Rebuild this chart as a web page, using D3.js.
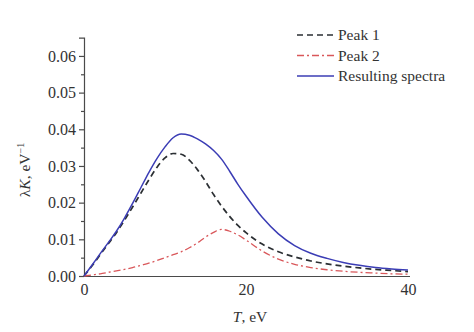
<!DOCTYPE html>
<html>
<head>
<meta charset="utf-8">
<script src="https://cdn.jsdelivr.net/npm/d3@7"></script>
<style>
  body { margin: 0; background: #fff; }
  text { font-family: "Liberation Serif", "Times New Roman", serif; fill: #333; }
</style>
</head>
<body>
<svg id="chart" width="474" height="332"></svg>
<script>
// energy grid, eV
var T = [0,1,2,3,4,5,6,7,8,9,10,11,12,13,14,15,16,17,18,19,20,22,24,26,28,30,32,34,36,38,40];
var peak1 = [0,0.0028,0.0058,0.0088,0.0118,0.0152,0.0188,0.0225,0.0262,0.0296,0.0322,0.0334,0.0332,0.0316,0.0290,0.0258,0.0222,0.0190,0.0162,0.0138,0.0118,0.0087,0.0066,0.0052,0.0041,0.0033,0.0027,0.0022,0.0018,0.0015,0.0012];
var peak2 = [0,0.0003,0.0006,0.0010,0.0014,0.0018,0.0023,0.0029,0.0035,0.0042,0.0050,0.0058,0.0066,0.0077,0.0090,0.0106,0.0119,0.0127,0.0122,0.0112,0.0098,0.0068,0.0046,0.0032,0.0023,0.0017,0.0013,0.0010,0.0008,0.0006,0.0005];
var resulting = [0,0.0030,0.0061,0.0091,0.0122,0.0158,0.0198,0.0240,0.0282,0.0320,0.0352,0.0377,0.0387,0.0384,0.0374,0.0360,0.0342,0.0318,0.0285,0.0250,0.0218,0.0160,0.0115,0.0083,0.0062,0.0048,0.0037,0.0029,0.0023,0.0019,0.0016];
var xTicks = [0, 20, 40];
var yTicks = [0, 0.01, 0.02, 0.03, 0.04, 0.05, 0.06];
var seriesNames = ["Peak 1", "Peak 2", "Resulting spectra"];

var svg = d3.select("#chart");
var x = d3.scaleLinear().domain([0, 40]).range([84, 408]);
var y = d3.scaleLinear().domain([0, 0.065]).range([276, 37.6]);

// axes
var yAxis = svg.append("g").attr("transform", "translate(84,0)")
    .call(d3.axisLeft(y).tickValues(yTicks).tickFormat(d3.format(".2f")).tickSize(5).tickPadding(3));
svg.append("g").attr("transform", "translate(84,0)")
    .call(d3.axisLeft(y).tickValues(d3.range(0.005, 0.065, 0.01)).tickFormat("").tickSize(3))
    .select(".domain").remove();
var xAxis = svg.append("g").attr("transform", "translate(0,276)")
    .call(d3.axisBottom(x).tickValues(xTicks).tickSize(0).tickPadding(8));

svg.selectAll(".domain, .tick line").attr("stroke", "#4a4a4a").attr("stroke-width", 1.2);
svg.selectAll(".tick text").attr("font-size", 16).attr("fill", "#333")
    .style("font-family", "'Liberation Serif', serif");
xAxis.select(".domain").attr("d", "M84,0.5H410");

// lines
var line = d3.line().x(function(d, i){ return x(T[i]); }).y(function(d){ return y(d); }).curve(d3.curveMonotoneX);
var styles = [
  {data: peak1, color: "#2b2f33", dash: "6,4", w: 1.7},
  {data: peak2, color: "#d9575a", dash: "7,3,2,3", w: 1.3},
  {data: resulting, color: "#3b3db5", dash: null, w: 1.5}
];
styles.forEach(function(s){
  svg.append("path").attr("d", line(s.data)).attr("fill", "none")
    .attr("stroke", s.color).attr("stroke-width", s.w)
    .attr("stroke-dasharray", s.dash);
});

// legend
var leg = svg.append("g");
seriesNames.forEach(function(n, i){
  var yy = 35 + i * 20.5;
  leg.append("line").attr("x1", 297).attr("x2", 334).attr("y1", yy).attr("y2", yy)
    .attr("stroke", styles[i].color).attr("stroke-width", styles[i].w)
    .attr("stroke-dasharray", styles[i].dash);
  leg.append("text").attr("x", 338).attr("y", yy + 5).attr("font-size", 15.5).text(n);
});

// axis titles
svg.append("text").attr("x", 250).attr("y", 322).attr("text-anchor", "middle").attr("font-size", 15.5)
  .html('<tspan font-style="italic">T</tspan>, eV');
svg.append("text").attr("transform", "translate(30,170) rotate(-90)").attr("text-anchor", "middle").attr("font-size", 15.5)
  .html('λ<tspan font-style="italic">K</tspan>, eV<tspan dy="-6" font-size="10">−1</tspan>');
</script>
</body>
</html>
